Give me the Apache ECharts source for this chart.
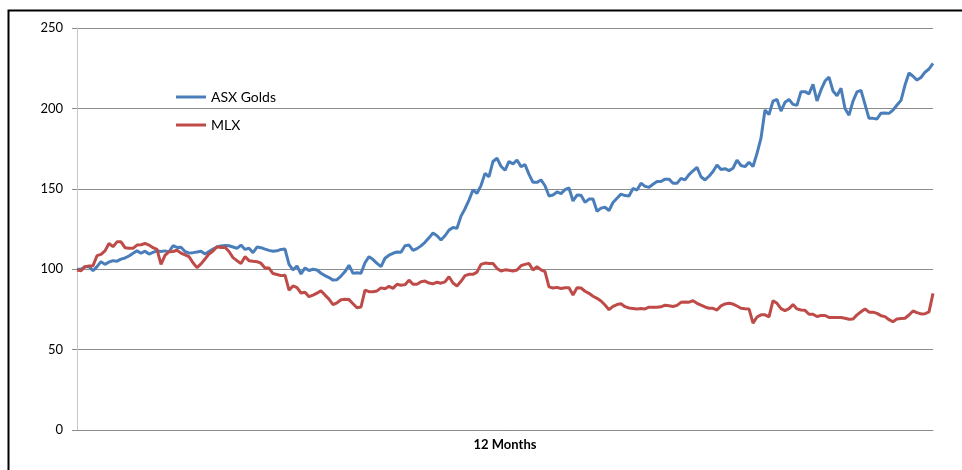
<!DOCTYPE html>
<html>
<head>
<meta charset="utf-8">
<script src="https://cdn.jsdelivr.net/npm/echarts@6/dist/echarts.min.js"></script>
<style>
html,body{margin:0;padding:0;background:#fff;}
#chart{width:962px;height:470px;}
</style>
</head>
<body>
<div id="chart"></div>
<script>
// Series names
const seriesNames = ["ASX Golds", "MLX"];
const xAxisTitle = "12 Months";
const yTicks = [0, 50, 100, 150, 200, 250];

// ASX Golds (indexed to 100)
const asxGolds = [
100,100,101.5,101.6,99,101.6,104.7,103,104.5,105.3,
105,106.3,107,108.2,109.9,111.4,109.9,111.2,109.4,110.5,
111.4,111,111.4,110.8,114.6,113.5,113.6,111,110,110.3,
110.7,111.2,109.5,111,112.5,113.8,114.5,114.8,114.6,113.8,
113,115,112.3,113,110.3,113.8,113.4,112.5,111.7,111.2,
111.4,112.3,112.5,103,99.6,102,97,100.8,99.2,100,
99.5,97.5,96,94.8,93.2,93.5,95.7,98.5,102.5,97.4,
97.8,97.5,104,107.8,106,103.6,101.6,106.8,108.7,109.9,
110.7,110.5,114.6,115,111.7,112.8,114.5,116.7,119.5,122.5,
120.8,118.2,120.8,124.3,125.9,125.5,133,137.6,143,149.3,
147.2,152,159.6,157.5,167,169,164,161.5,167,165.5,
167.9,163.8,165,159,154,154,155.5,151.9,145.5,146.1,
148.1,147,149.5,150.5,142.4,146.1,146,141.6,143.6,143.6,
136,138,138.5,136.5,141.5,144.1,146.7,145.8,145.5,150.2,
149.2,153.5,151.5,151,152.8,154.5,154.5,156,156,153.4,
153.4,156.5,155.5,158.8,161.2,163.3,157.5,155.5,157.8,160.7,
164.8,162,162.5,161.3,162.8,167.8,164.5,163.8,166.5,163.9,
172,181.5,199,196.2,204.5,205.6,198.3,203.8,205.5,202.5,
202,210.4,210.4,209,215,204.6,211.5,217,219.5,210.8,
207.9,212.5,200,195.8,204.5,210.3,211.2,202.5,193.8,193.8,
193.4,197,197.2,196.9,198.9,202.1,205,214.5,222,220,
217.6,219.2,222.5,224.5,228
];

// MLX (indexed to 100)
const mlx = [
99.5,99,101.6,102,102.2,108.4,109.2,111.4,116,114,
117,117,113.4,113,113,115,115.2,116,115,113.4,
112.3,103,108.6,110.9,111,111.8,110,108.9,107.8,104,
101,103.3,106.3,109.5,111.3,114,113.5,113.6,111,107.2,
105.3,103.6,107.8,105.3,104.9,104.7,103.7,100.8,100.7,97.3,
96.7,96,96.3,87,89.6,88.5,85.2,85.7,82.9,83.9,
85.1,86.6,83.9,81.4,78,79.1,81,81.3,81.1,78.5,
76,76.5,87,86,86,86.5,88.4,87.8,89.3,88.1,
90.6,90,90.4,93.2,90.6,90.6,92.2,92.6,91.4,90.9,
91.9,91.3,92.1,95.3,91.4,89.6,92.5,96,96.8,96.8,
98.2,103,103.8,103.6,103.5,100.5,98.9,99.6,99.3,98.8,
99.5,102.2,103,103.6,99.5,101.5,99.6,98.5,89,88.3,
88.7,88,88.5,88.5,84,88.5,88.3,86.3,85,83.2,
81.9,80.2,77.7,74.8,76.9,78,78.5,76.7,75.9,75.6,
75.3,75.5,75.3,76.4,76.4,76.4,76.6,77.6,77.3,76.8,
77.5,79.4,79.6,79.5,80.4,78.8,77.6,76.5,75.7,75.7,
74.6,77.2,78.4,78.8,78.3,77.1,75.7,75.4,75.3,66.5,
70.3,71.6,71.6,70.4,80.4,78.8,75.5,74.2,75.5,78,
75.3,74.6,74.4,72,72,70.6,71.2,71.2,70,70,
70,70,69.5,68.9,69,71.6,73.5,75.3,73.3,73.3,
72.5,71.1,70.5,68.6,67.3,69.1,69.4,69.5,71.5,74,
73,72.2,72.3,73.5,85
];

const categories = asxGolds.map((_, i) => String(i + 1));

const chart = echarts.init(document.getElementById('chart'), null, {renderer: 'canvas'});
const font = 'Lato, "Open Sans", sans-serif';

chart.setOption({
  animation: false,
  backgroundColor: '#ffffff',
  textStyle: {fontFamily: font},
  graphic: [{
    type: 'rect',
    shape: {x: 8.5, y: 10.5, width: 1000, height: 500},
    style: {fill: 'none', stroke: '#000000', lineWidth: 2},
    silent: true
  }],
  legend: {
    orient: 'vertical',
    left: 171,
    top: 85,
    itemGap: 14,
    itemWidth: 30,
    itemHeight: 3,
    icon: 'rect',
    textStyle: {fontFamily: font, fontSize: 14, color: '#000'},
    data: seriesNames
  },
  grid: {left: 77, right: 29, top: 28, bottom: 40, containLabel: false},
  xAxis: {
    type: 'category',
    data: categories,
    boundaryGap: false,
    name: xAxisTitle,
    nameLocation: 'middle',
    nameGap: 8,
    nameTextStyle: {fontFamily: font, fontSize: 13, fontWeight: 'bold', color: '#000', verticalAlign: 'top'},
    axisLine: {show: true, lineStyle: {color: '#8c8c8c', width: 1}},
    axisTick: {show: false},
    axisLabel: {show: false},
    splitLine: {show: false}
  },
  yAxis: {
    type: 'value',
    min: yTicks[0],
    max: yTicks[yTicks.length - 1],
    interval: 50,
    axisLine: {show: true, lineStyle: {color: '#c8c8c8', width: 1}},
    axisTick: {show: true, length: 5, lineStyle: {color: '#8c8c8c'}},
    axisLabel: {margin: 14, fontFamily: font, fontSize: 13, color: '#000'},
    splitLine: {show: true, lineStyle: {color: '#8c8c8c', width: 1}}
  },
  series: [
    {
      name: seriesNames[0],
      type: 'line',
      data: asxGolds,
      showSymbol: false,
      symbol: 'none',
      lineStyle: {color: '#4a7ebb', width: 3},
      itemStyle: {color: '#4a7ebb'}
    },
    {
      name: seriesNames[1],
      type: 'line',
      data: mlx,
      showSymbol: false,
      symbol: 'none',
      lineStyle: {color: '#be4b48', width: 3},
      itemStyle: {color: '#be4b48'}
    }
  ]
});
</script>
</body>
</html>
